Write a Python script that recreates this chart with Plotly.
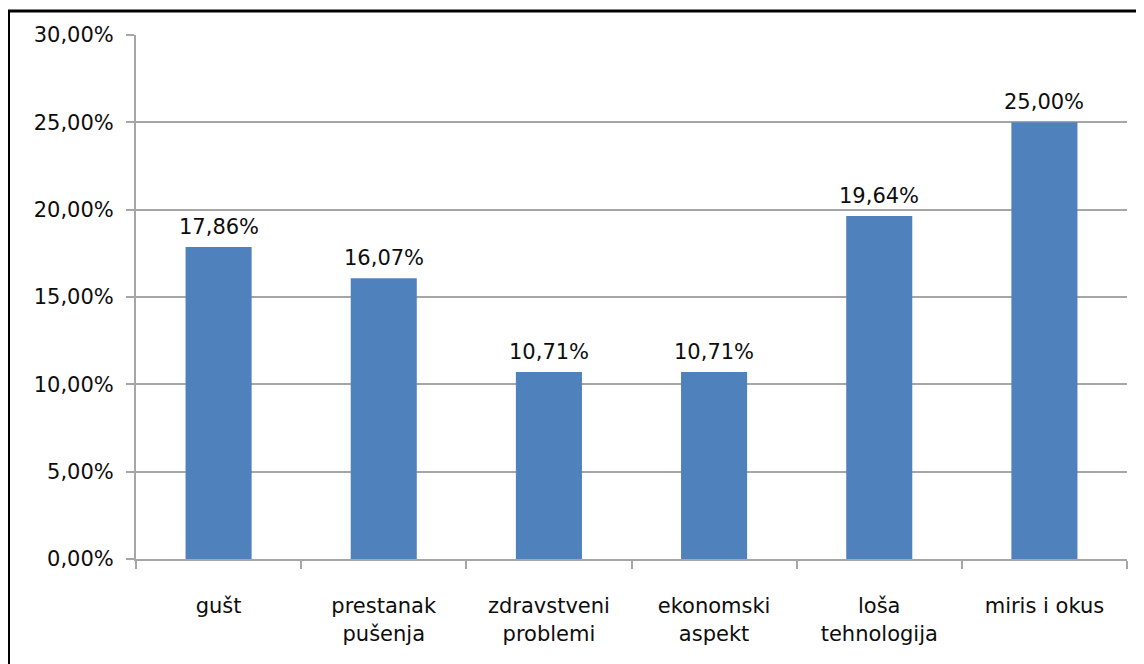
import plotly.graph_objects as go

categories = ["gušt", "prestanak<br>pušenja", "zdravstveni<br>problemi", "ekonomski<br>aspekt", "loša<br>tehnologija", "miris i okus"]
values = [0.1786, 0.1607, 0.1071, 0.1071, 0.1964, 0.25]
y_ticks = [0, 0.05, 0.10, 0.15, 0.20, 0.25, 0.30]

FONT = "DejaVu Sans"
TXT = "#0d0d0d"
GRID = "#a6a6a6"

fig = go.Figure()
fig.add_trace(go.Bar(
    x=categories, y=values, width=0.4,
    marker=dict(color="#4f81bd", line=dict(width=0)),
    hoverinfo="skip",
))

for c, v in zip(categories, values):
    fig.add_annotation(
        x=c, y=v, xref="x", yref="y",
        text=f"{v*100:.2f}%".replace(".", ","),
        showarrow=False, yanchor="bottom", yshift=6,
        font=dict(family=FONT, size=21, color=TXT),
    )

# page offset (body margin) compensation
OFF = 8
L, R, T, B = 136 - OFF, 1127 - OFF, 35 - OFF, 559 - OFF
def px(xp):
    return (xp - OFF - L) / (R - L)
def py(yp):
    return (B - (yp - OFF)) / (B - T)
fig.add_shape(type="rect", xref="paper", yref="paper",
              x0=px(8.5), x1=px(1180), y0=py(720), y1=py(11),
              line=dict(color="black", width=3), fillcolor="rgba(0,0,0,0)")

fig.update_layout(
    width=1144, height=664,
    margin=dict(l=L, r=1144 - R, t=T, b=664 - B),
    paper_bgcolor="white", plot_bgcolor="white",
    separators=",.",
    showlegend=False,
    bargap=0.6,
    font=dict(family=FONT, size=21, color=TXT),
)
fig.update_xaxes(
    showline=True, linecolor=GRID, linewidth=2,
    ticks="outside", tickson="boundaries", ticklen=8, tickcolor=GRID, tickwidth=2,
    showgrid=False, tickfont=dict(family=FONT, size=21, color=TXT),
    ticklabelstandoff=27,
)
fig.update_yaxes(
    range=[0, 0.30], tickvals=y_ticks, tickformat=".2%",
    showline=True, linecolor=GRID, linewidth=2,
    ticks="outside", ticklen=8, tickcolor=GRID, tickwidth=2,
    showgrid=True, gridcolor=GRID, gridwidth=2, zeroline=False,
    tickfont=dict(family=FONT, size=21, color=TXT),
    ticklabelstandoff=8,
)

fig.write_html("out.html")
